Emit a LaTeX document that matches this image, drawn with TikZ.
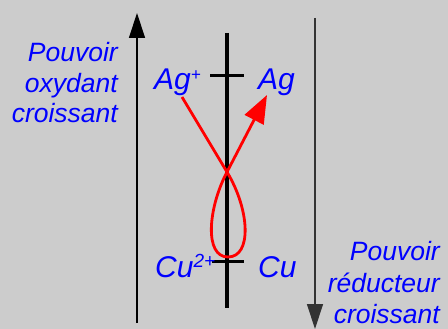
\documentclass[tikz,border=0pt]{standalone}
\usepackage{fontspec}
\setmainfont{Liberation Sans}
\usetikzlibrary{arrows.meta}
\definecolor{bg}{HTML}{CCCCCC}
\definecolor{lbl}{HTML}{0000FF}
\definecolor{crv}{HTML}{FF0000}
\begin{document}
\begin{tikzpicture}[x=1pt,y=-1pt,
  big/.style={text=lbl,inner sep=0pt,anchor=base west,font=\fontsize{30}{36}\selectfont\itshape},
  side/.style={text=lbl,inner sep=0pt,anchor=base east,font=\fontsize{26.5}{30}\selectfont\itshape},
  axis/.style={line width=3.5pt,black},
  sidearrow/.style={line width=1.3pt,-{Triangle[length=25pt,width=16pt]}}]
\fill[bg] (0,0) rectangle (448,329);
\useasboundingbox (0,0) rectangle (448,329);
% side arrows
\coordinate (lb) at (137,323);
\coordinate (lt) at (137,13);
\coordinate (rt) at (315,18);
\coordinate (rb) at (315,329);
\draw[sidearrow,black] (lb) -- (lt);
\draw[sidearrow,black!80] (rt) -- (rb);
% axis
\coordinate (at) at (227,33);
\coordinate (ab) at (227,308);
\draw[axis] (at) -- (ab);
\coordinate (t1a) at (210,76);
\coordinate (t1b) at (244,76);
\draw[axis,line width=3pt] (t1a) -- (t1b);
\coordinate (t2a) at (212,261);
\coordinate (t2b) at (244,261);
\draw[axis,line width=3pt] (t2a) -- (t2b);
% labels
\node[big] (agp) at (154,90) {Ag\textsuperscript{\fontsize{17}{17}\selectfont +}};
\node[big] (ag) at (258,90) {Ag};
\node[big] (cup) at (155,277) {Cu\textsuperscript{\fontsize{19}{19}\selectfont 2+}};
\node[big] (cu) at (258,277) {Cu};
% side texts
\node[side] (l1) at (118,62) {Pouvoir};
\node[side] (l2) at (118,93) {oxydant};
\node[side] (l3) at (118,123) {croissant};
\node[side] (r1) at (440,260) {Pouvoir};
\node[side] (r2) at (440,292) {réducteur};
\node[side] (r3) at (440,323) {croissant};
% red curve
\coordinate (s) at (182,97);
\coordinate (x) at (227,172);
\coordinate (bot) at (228,257);
\coordinate (e) at (267,95);
\draw[crv,line width=2.8pt,line join=round,-{Triangle[length=28pt,width=21pt]}]
  (s) -- (x) .. controls (250,210) and (252,257) .. (bot)
  .. controls (204,257) and (208,208) .. (x) -- (e);
\end{tikzpicture}
\end{document}
